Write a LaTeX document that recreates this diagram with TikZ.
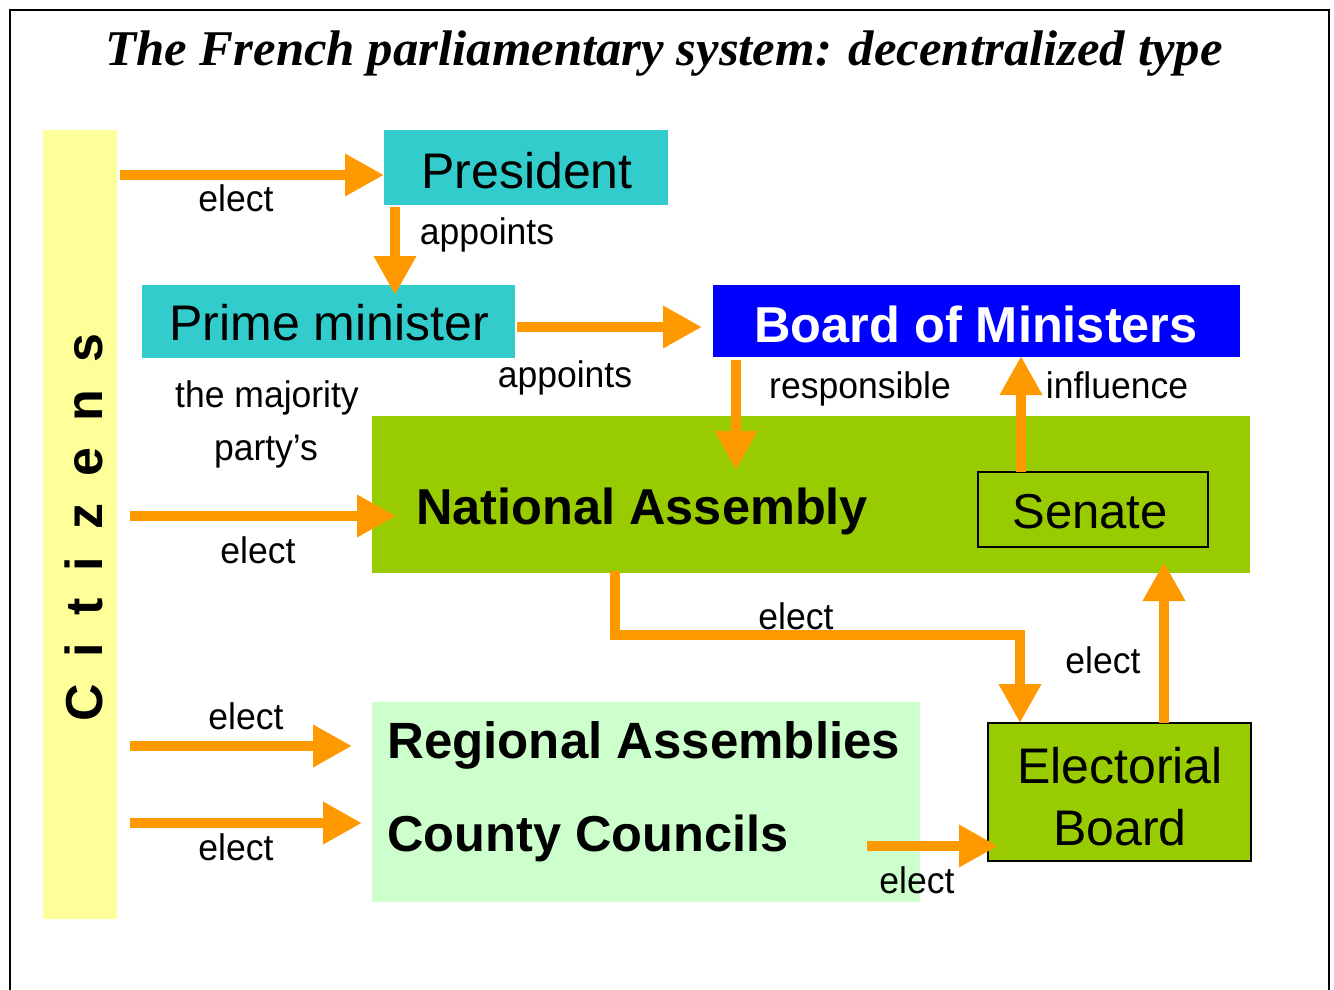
\documentclass[tikz,border=0pt]{standalone}
\usepackage{fontspec}
\setmainfont{Liberation Sans}
\newfontfamily\titlefont{Liberation Serif}
\usetikzlibrary{arrows.meta,calc}
\definecolor{arrorange}{HTML}{FF9900}
\definecolor{teal1}{HTML}{33CCCC}
\definecolor{blue1}{HTML}{0000FF}
\definecolor{green1}{HTML}{99CC00}
\definecolor{lgreen}{HTML}{CCFFCC}
\definecolor{yell}{HTML}{FFFF99}
\newcommand\fs[1]{\fontsize{#1}{#1}\selectfont}
\newcommand\lbltxt[1]{\scalebox{0.96}[1]{#1}}
\tikzset{
  boxnode/.style={inner sep=0pt, outer sep=0pt, anchor=north west},
  arr/.style={draw=arrorange, line width=10pt, -{Triangle[length=39pt,width=40pt]}},
  lbl/.style={inner sep=0pt, anchor=base, font=\fs{37}},
  big/.style={inner sep=0pt, anchor=base, font=\fs{50}},
}
\begin{document}
\begin{tikzpicture}[x=1pt,y=-1pt]
\useasboundingbox (0,0) rectangle (1334,989);
\fill[white] (0,0) rectangle (1334,989);
% frame
\draw[line width=2pt] (10,1000) -- (10,10) -- (1329,10) -- (1329,1000);
% title
\node[inner sep=0pt, anchor=base] (title) at (664,65)
  {\resizebox{1117pt}{\height}{\titlefont\fs{50}\bfseries\itshape The French parliamentary system: decentralized type}};
% boxes
\node[boxnode, fill=yell, minimum width=74pt, minimum height=789pt] (cit) at (43,130) {};
\node[inner sep=0pt, anchor=base, rotate=90, font=\fs{52}\bfseries] (cittext) at (102,527.5)
  {\spaceskip=27pt C i t i z e n s};
\node[boxnode, fill=teal1, minimum width=284pt, minimum height=75pt] (pres) at (384,130) {};
\node[big] (prestext) at (527,188) {President};
\node[boxnode, fill=teal1, minimum width=373pt, minimum height=73pt] (pm) at (142,285) {};
\node[big] (pmtext) at (329,340) {Prime minister};
\node[boxnode, fill=blue1, minimum width=527pt, minimum height=72pt] (bom) at (713,285) {};
\node[big, font=\fs{50.5}\bfseries, text=white] (bomtext) at (976,342) {Board of Ministers};
\node[boxnode, fill=green1, minimum width=878pt, minimum height=157pt] (na) at (372,416) {};
\node[inner sep=0pt, anchor=base west, font=\fs{50.5}\bfseries] (natext) at (416,524) {National Assembly};
\node[boxnode, fill=green1, draw=black, line width=1.5pt, minimum width=230pt, minimum height=75pt] (sen) at (978,472) {};
\node[big, font=\fs{49}] (sentext) at (1090,528) {Senate};
\node[boxnode, fill=lgreen, minimum width=548pt, minimum height=200pt] (rc) at (372,702) {};
\node[inner sep=0pt, anchor=base west, font=\fs{51}\bfseries] (ra) at (387,758) {Regional Assemblies};
\node[inner sep=0pt, anchor=base west, font=\fs{50.5}\bfseries] (cc) at (387,851) {County Councils};
\node[boxnode, fill=green1, draw=black, line width=1.5pt, minimum width=263pt, minimum height=138pt] (eb) at (988,723) {};
\node[big] (ebtext1) at (1120,783) {Electorial};
\node[big] (ebtext2) at (1120,845) {Board};
% arrows
\draw[arr] ($(cit.east)+(3,-349.5)$) -- ($(pres.west)+(0,7.5)$);
\draw[arr] ($(pres.south west)+(11,2)$) -- ($(pm.north west)+(253,10)$);
\draw[arr] ($(pm.east)+(2,5.5)$) -- ($(bom.west)+(-11,6)$);
\draw[arr] ($(bom.south west)+(23,3)$) -- ($(na.north west)+(364,54)$);
\draw[arr] ($(sen.north west)+(43,0)$) -- ($(bom.south west)+(308,-1)$);
\draw[arr] ($(cit.east)+(13,-8.5)$) -- ($(na.west)+(24,21.5)$);
\draw[arr] ($(na.south west)+(243,-2)$) -- ++(0,64) -| ($(eb.north west)+(32,0)$);
\draw[arr] ($(eb.north west)+(176,0)$) -- ($(na.south west)+(792,-11)$);
\draw[arr] ($(cit.east)+(13,221.5)$) -- ($(rc.west)+(-20,-56)$);
\draw[arr] ($(cit.east)+(13,298.5)$) -- ($(rc.west)+(-10,21)$);
\draw[arr] ($(rc.west)+(495,44)$) -- ($(eb.west)+(10,54)$);
% labels
\node[lbl] (l1) at (236,211) {\lbltxt{elect}};
\node[lbl] (l2) at (487,244) {\lbltxt{appoints}};
\node[lbl] (l3) at (565,387) {\lbltxt{appoints}};
\node[lbl] (l4) at (267,407) {\lbltxt{the majority}};
\node[lbl] (l5) at (266,460) {\lbltxt{party’s}};
\node[lbl] (l6) at (860,398) {\lbltxt{responsible}};
\node[lbl] (l7) at (1117,398) {\lbltxt{influence}};
\node[lbl] (l8) at (258,563) {\lbltxt{elect}};
\node[lbl] (l9) at (796,629) {\lbltxt{elect}};
\node[lbl] (l10) at (1103,673) {\lbltxt{elect}};
\node[lbl] (l11) at (246,729) {\lbltxt{elect}};
\node[lbl] (l12) at (236,860) {\lbltxt{elect}};
\node[lbl] (l13) at (917,893) {\lbltxt{elect}};
\end{tikzpicture}
\end{document}
